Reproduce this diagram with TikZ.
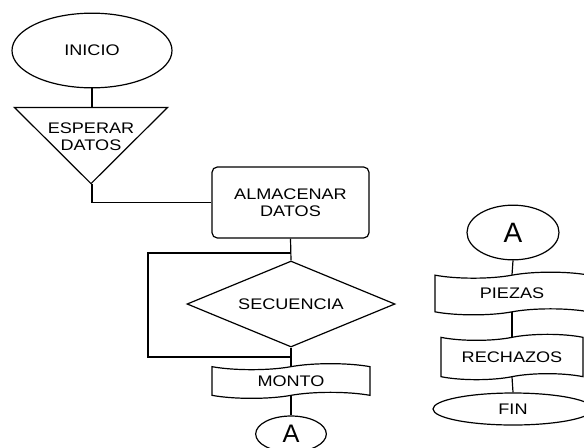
\documentclass[tikz,border=0pt]{standalone}
\usepackage{fontspec}
\setmainfont{Liberation Sans}[FakeStretch=1.18]
\newfontfamily\connfont{Liberation Sans}
\usetikzlibrary{shapes.geometric,shapes.symbols}

\begin{document}
\begin{tikzpicture}[x=0.75pt,y=0.75pt,yscale=-1,xscale=1,
  line width=0.9pt,
  txt/.style={font=\fontsize{11.5}{13}\selectfont,align=center,inner sep=0pt},
  term/.style={draw,ellipse,inner sep=0pt,font=\fontsize{11.5}{13}\selectfont},
  conn/.style={draw,ellipse,inner sep=0pt,font=\connfont\fontsize{21}{21}\selectfont},
  proc/.style={draw,rectangle,rounded corners=4pt,inner sep=0pt,align=center,font=\fontsize{11.5}{13}\selectfont},
  deci/.style={draw,diamond,aspect=2.5,inner sep=0pt,font=\fontsize{11.5}{13}\selectfont},
  tapebox/.style={draw,tape,tape bend height=4.5pt,inner sep=0pt,font=\fontsize{11.5}{13}\selectfont}]
\useasboundingbox (0,0) rectangle (584,447);
\clip (0,0) rectangle (584,447);

%Shape: Ellipse [inicio]
\node[term,minimum width=120pt,minimum height=56pt] (inicio) at (92,50.5) {INICIO};

%Shape: Triangle [esperar]
\node[minimum width=114pt,minimum height=56.25pt,inner sep=0pt] (esperar) at (91,145.5) {};
\draw (esperar.north west) -- (esperar.north east) -- (esperar.south) -- cycle ;
\node[txt] (esperartxt) at ([yshift=-6.4pt]esperar.center) {ESPERAR\\DATOS};

%Shape: Rectangle [almacenar]
\node[proc,minimum width=117.75pt,minimum height=53.25pt] (almacenar) at (290.5,202.5) {ALMACENAR\\DATOS};

%Shape: Diamond [secuencia]
\node[deci,minimum width=156pt,minimum height=64.5pt] (secuencia) at (291,304) {SECUENCIA};

%Shape: Tape [monto]
\node[tapebox,minimum width=118.5pt,minimum height=26pt] (monto) at (291,381) {MONTO};

%Shape: Ellipse [connector A, left]
\node[conn,font=\connfont\fontsize{19}{19}\selectfont,minimum width=53pt,minimum height=27pt] (aleft) at (291,434) {A};

%Shape: Ellipse [connector A, right]
\node[conn,minimum width=69pt,minimum height=41pt] (aright) at (513,232.5) {A};

%Shape: Tape [piezas]
\node[tapebox,minimum width=115.5pt,minimum height=32pt] (piezas) at (512,293.5) {PIEZAS};

%Shape: Tape [rechazos]
\node[tapebox,minimum width=106.5pt,minimum height=34pt] (rechazos) at (512,357) {RECHAZOS};

%Shape: Ellipse [fin]
\node[term,minimum width=120pt,minimum height=24pt] (fin) at (513,409) {FIN};

%Straight Lines
\draw (inicio.south) -- (inicio.south |- esperar.north) ;
\draw (inicio.south |- esperar.south) |- (almacenar.west) ;
\draw (almacenar.south) -- (secuencia.north) ;
\draw (secuencia.south) -- (monto.north) ;
\draw (monto.south) -- (aleft.north) ;

%Loop
\coordinate (loopin) at (291,253) ;
\coordinate (loopout) at (291,357) ;
\draw (loopin) -- ++(-143,0) |- (loopout) ;

%Right column
\draw (aright.south) -- (piezas.north) ;
\draw (piezas.south) -- (rechazos.north) ;
\draw (rechazos.south) -- (fin.north) ;

\end{tikzpicture}
\end{document}
